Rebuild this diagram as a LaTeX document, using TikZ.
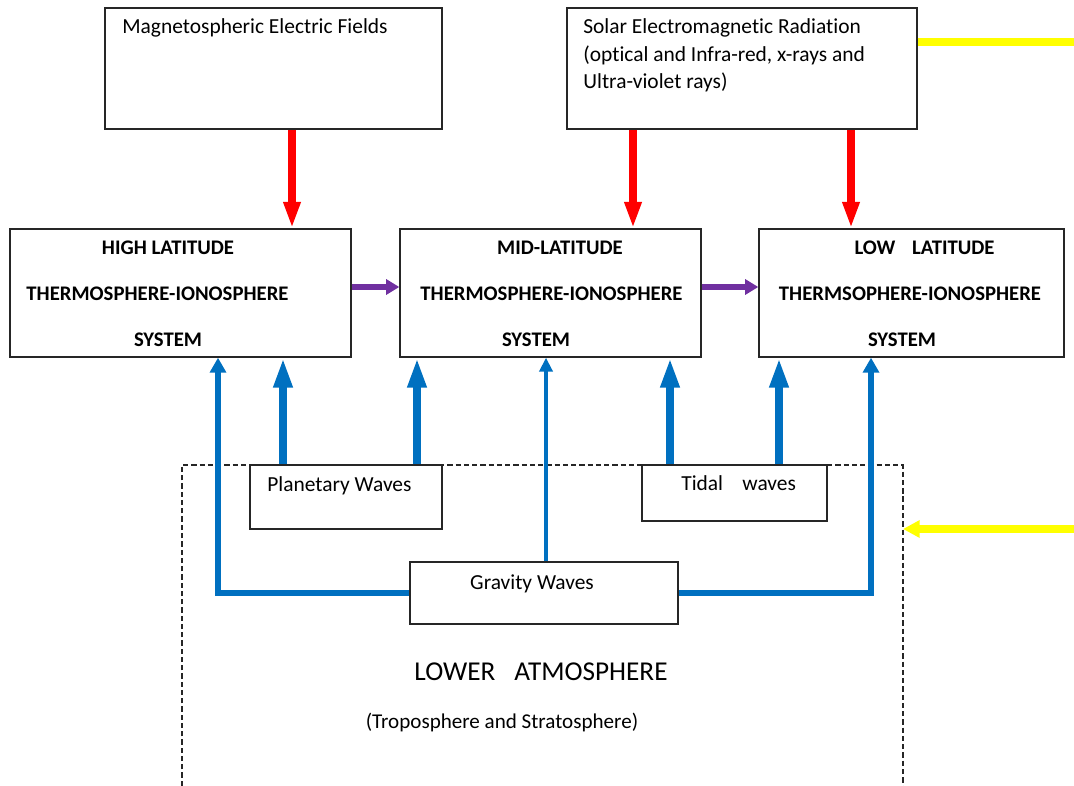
\documentclass[tikz,border=0pt]{standalone}
\usepackage{fontspec}
\setmainfont{Carlito}[Ligatures=NoCommon]
\usepackage{xcolor}
\usepackage{tikz}
\usetikzlibrary{arrows.meta,positioning}

\definecolor{waveblue}{HTML}{0070C0}
\definecolor{flowpurple}{HTML}{7030A0}
\definecolor{sunyellow}{HTML}{FFFF00}

\begin{document}
\begin{tikzpicture}[x=0.02cm, y=-0.02cm,
    box/.style={draw=black!85, line width=0.8pt, fill=white, inner sep=0pt},
    txt/.style={font=\fontsize{12.2}{14}\selectfont, anchor=base west, inner sep=0pt},
    hdr/.style={font=\fontsize{11.8}{14}\selectfont\bfseries, anchor=base, inner sep=0pt},
    heat/.style={draw=red, line width=4.5pt, -{Triangle[length=15pt,width=9pt]}},
    flow/.style={draw=flowpurple, line width=3.6pt, -{Triangle[length=7.5pt,width=8.5pt]}},
    wave/.style={draw=waveblue, line width=5pt, -{Triangle[length=17pt,width=10pt]}},
    gwave/.style={draw=waveblue, line width=3.6pt, -{Triangle[length=8.5pt,width=9pt]}},
    sun/.style={draw=sunyellow, line width=4.3pt}
]
    \useasboundingbox (0,0) rectangle (1074,786);

    % Lower atmosphere (dashed, open at the bottom)
    \draw[black!85, line width=0.7pt, dash pattern=on 3pt off 1.7pt]
        (182,786) -- (182,465) -- (903,465) -- (903,786);

    % Sources at the top
    \node[box, minimum width=6.74cm, minimum height=2.42cm] (magf) at (273.5,68.5) {};
    \node[box, minimum width=7.00cm, minimum height=2.42cm] (solar) at (742,68.5) {};
    \node[txt] (magtxt) at (122,34) {Magnetospheric Electric Fields};
    \node[txt] (soltxta) at (583,34) {Solar Electromagnetic Radiation};
    \node[txt] (soltxtb) at (583,61.5) {(optical and Infra-red, x-rays and};
    \node[txt] (soltxtc) at (583,89) {Ultra-violet rays)};

    % Thermosphere-ionosphere systems
    \node[box, minimum width=6.82cm, minimum height=2.56cm] (hilat) at (180.5,293) {};
    \node[box, minimum width=6.02cm, minimum height=2.56cm] (midlat) at (550.5,293) {};
    \node[box, minimum width=6.10cm, minimum height=2.56cm] (lowlat) at (911.5,293) {};

    \node[hdr] (hitxta) at (168,255) {HIGH LATITUDE};
    \node[hdr] (hitxtb) at (157.5,301) {THERMOSPHERE-IONOSPHERE};
    \node[hdr] (hitxtc) at (168,347) {SYSTEM};
    \node[hdr] (midtxta) at (560,255) {MID-LATITUDE};
    \node[hdr] (midtxtb) at (551.5,301) {THERMOSPHERE-IONOSPHERE};
    \node[hdr] (midtxtc) at (536,347) {SYSTEM};
    \node[hdr] (lowtxta) at (924.5,255) {LOW\hspace{0.8em}LATITUDE};
    \node[hdr] (lowtxtb) at (910,301) {THERMSOPHERE-IONOSPHERE};
    \node[hdr] (lowtxtc) at (902,347) {SYSTEM};

    % Wave sources
    \node[box, minimum width=3.84cm, minimum height=1.28cm] (planet) at (346,497) {};
    \node[box, minimum width=3.70cm, minimum height=1.12cm] (tidal) at (734.5,493) {};
    \node[box, minimum width=5.36cm, minimum height=1.24cm] (grav) at (544,593) {};
    \node[txt] (plantxt) at (267,492) {Planetary Waves};
    \node[txt] (tidtxt) at (681,491) {Tidal\hspace{0.9em}waves};
    \node[txt, anchor=base] (gravtxt) at (532,589) {Gravity Waves};

    \node[txt, anchor=base, font=\fontsize{15.5}{18}\selectfont] (lowatm) at (541,680) {LOWER\hspace{0.7em}ATMOSPHERE};
    \node[txt, anchor=base, font=\fontsize{12}{14}\selectfont] (tropo) at (502,728) {(Troposphere and Stratosphere)};

    % x positions of the connectors
    \coordinate (xr1) at (292,0);
    \coordinate (xr2) at (633,0);
    \coordinate (xr3) at (851,0);
    \coordinate (xb1) at (218,0);
    \coordinate (xb2) at (283,0);
    \coordinate (xb3) at (417,0);
    \coordinate (xb4) at (546,0);
    \coordinate (xb5) at (670,0);
    \coordinate (xb6) at (779,0);
    \coordinate (xb7) at (871,0);
    \coordinate (yp) at (0,287);

    % Heating from above
    \draw[heat] (magf.south -| xr1) -- (hilat.north -| xr1);
    \draw[heat] (solar.south -| xr2) -- (midlat.north -| xr2);
    \draw[heat] (solar.south -| xr3) -- (lowlat.north -| xr3);

    % Coupling between latitudes
    \draw[flow] (hilat.east |- yp) -- (midlat.west |- yp);
    \draw[flow] (midlat.east |- yp) -- (lowlat.west |- yp);

    % Solar input
    \coordinate (sunout) at (1074,42);
    \coordinate (sunin) at (1074,529);
    \coordinate (atmedge) at (903,529);
    \draw[sun] (solar.east |- sunout) -- (sunout);
    \draw[sun, -{Triangle[length=9.5pt,width=9.5pt]}] (sunin) -- (atmedge);

    % Waves going up
    \draw[wave] (planet.north -| xb2) -- (hilat.south -| xb2);
    \draw[wave] (planet.north -| xb3) -- (midlat.south -| xb3);
    \draw[wave] (tidal.north -| xb5) -- (midlat.south -| xb5);
    \draw[wave] (tidal.north -| xb6) -- (lowlat.south -| xb6);
    \draw[gwave] (grav.west) -| (hilat.south -| xb1);
    \draw[gwave] (grav.east) -| (lowlat.south -| xb7);
    \draw[gwave, line width=2.6pt, -{Triangle[length=8pt,width=7.5pt]}] (grav.north -| xb4) -- (midlat.south -| xb4);
\end{tikzpicture}
\end{document}
